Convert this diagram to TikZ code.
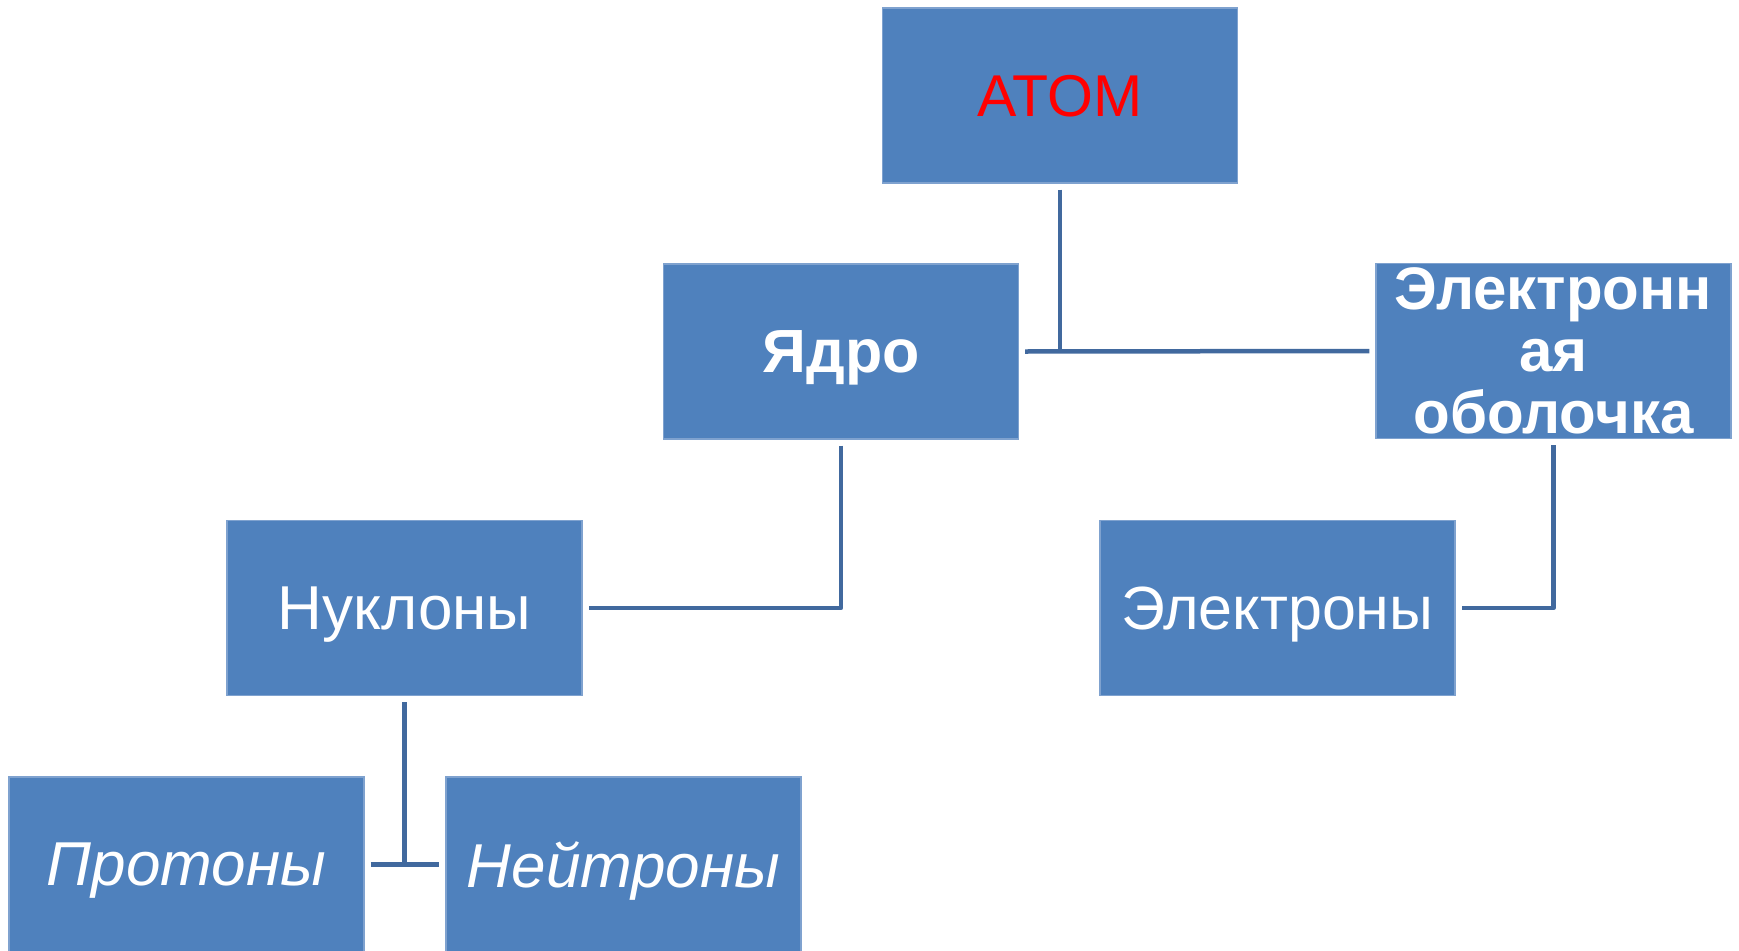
\documentclass[tikz,border=0pt]{standalone}
\usepackage{fontspec}
\setmainfont{Liberation Sans}
\definecolor{boxfill}{HTML}{4F81BD}
\definecolor{boxline}{HTML}{7FA2CF}
\definecolor{connline}{HTML}{41699E}
\definecolor{atomred}{HTML}{FF0000}
\tikzset{
  box/.style={rectangle, fill=boxfill, draw=boxline, line width=1.2pt,
    minimum width=355pt, minimum height=175pt, inner sep=0pt, text depth=0pt,
    text=white, align=center, font=\fontsize{62}{68}\selectfont},
  conn/.style={draw=connline, line width=4.5pt, line join=round}
}
\begin{document}
\begin{tikzpicture}[x=1pt,y=-1pt]
\useasboundingbox (0,0) rectangle (1739,950);
\clip (0,0) rectangle (1739,950);
\node[box, text=atomred, font=\fontsize{59}{66}\selectfont] (atom) at (1060,95.5) {ATOM};
\node[box, font=\fontsize{61}{68}\selectfont\bfseries] (yadro) at (841,351.5) {Ядро};
\node[box, font=\fontsize{60}{62}\selectfont\bfseries] (shell) at (1553.5,351) {Электронн\\ая\\оболочка};
\node[box] (nuk) at (404.5,608) {Нуклоны};
\node[box, font=\fontsize{61}{68}\selectfont] (elec) at (1277.5,608) {Электроны};
\node[box, font=\fontsize{62}{68}\selectfont\itshape] (prot) at (186.5,864.5) {Протоны};
\node[box, font=\fontsize{62}{68}\selectfont\itshape] (neut) at (623.5,864.5) {Нейтроны};
\draw[conn] ([yshift=-6pt]atom.south) -- (atom.south |- yadro.east);
\draw[conn] ([xshift=6pt]yadro.east) -- ([xshift=-6pt]shell.west);
\draw[conn] ([yshift=-6pt]yadro.south) |- ([xshift=6pt]nuk.east);
\draw[conn] ([yshift=-6pt]shell.south) |- ([xshift=6pt]elec.east);
\draw[conn] ([yshift=-6pt]nuk.south) -- (nuk.south |- prot.east);
\draw[conn] ([xshift=6pt]prot.east) -- ([xshift=-6pt]neut.west);
\end{tikzpicture}
\end{document}
